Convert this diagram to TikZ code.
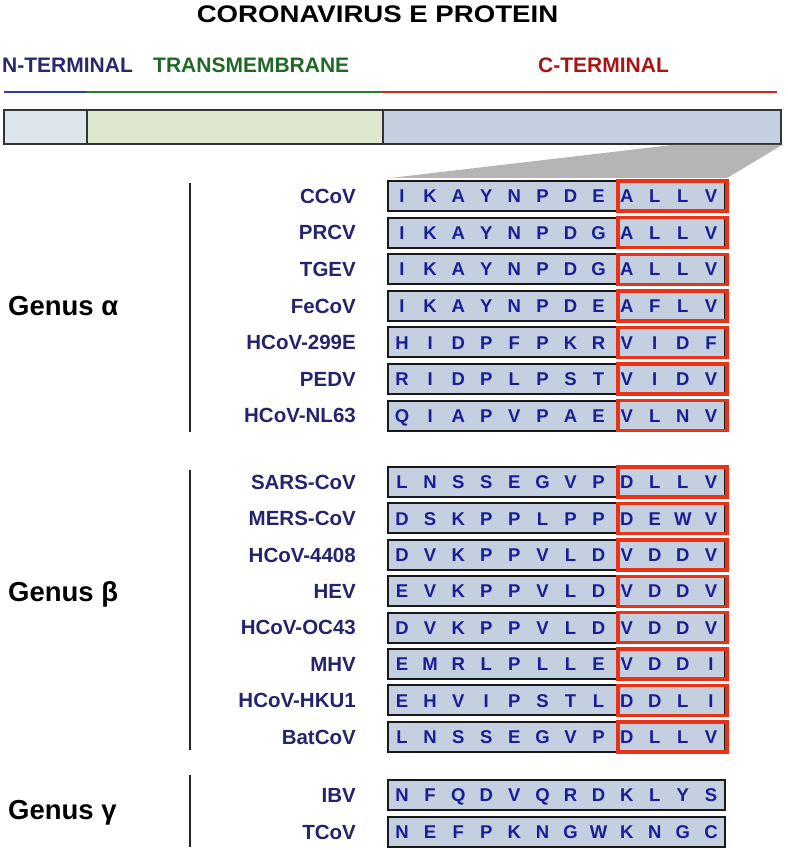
\documentclass[tikz,border=0pt]{standalone}
\usepackage{graphicx}
\usepackage{fontspec}
\setmainfont{Liberation Sans}
\usetikzlibrary{calc}
\definecolor{labnavy}{RGB}{36,36,110}
\definecolor{resblue}{RGB}{24,30,150}
\definecolor{boxfill}{RGB}{196,207,223}
\definecolor{nfill}{RGB}{220,230,236}
\definecolor{tmfill}{RGB}{221,232,206}
\definecolor{motifred}{RGB}{236,50,22}
\definecolor{ncol}{RGB}{40,40,110}
\definecolor{nline}{RGB}{40,60,180}
\definecolor{tmcol}{RGB}{30,105,40}
\definecolor{tmline}{RGB}{40,125,50}
\definecolor{ccol}{RGB}{170,20,20}
\definecolor{cline}{RGB}{210,40,30}
\definecolor{wedge}{RGB}{181,181,181}
\tikzset{
  seqbox/.style={draw=black!90, line width=2pt, fill=boxfill, minimum width=337pt,
                 minimum height=30pt, inner sep=0pt, outer sep=0pt, anchor=west},
  res/.style={text=resblue, font=\fontsize{18.5}{18.5}\selectfont\bfseries, inner sep=0pt,
              text height=13.3pt, text depth=0pt},
  lbl/.style={text=labnavy, font=\fontsize{20.5}{20.5}\selectfont\bfseries, anchor=east,
              inner sep=0pt, text height=14.7pt, text depth=0pt},
  genus/.style={font=\fontsize{27.5}{28}\selectfont\bfseries, anchor=west, inner sep=0pt,
                text height=19.7pt, text depth=0pt},
  regionlab/.style={font=\fontsize{21}{21}\selectfont\bfseries, anchor=west, inner sep=0pt,
                 text height=15pt, text depth=0pt},
  domainbar/.style={draw=black!80, line width=1.6pt, minimum height=34pt, inner sep=0pt,
                 outer sep=0pt, anchor=north west},
  motif/.style={draw=motifred, line width=3.4pt},
  bracket/.style={line width=2.2pt, draw=black!85},
}
\begin{document}
\begin{tikzpicture}[x=1pt, y=-1pt]
\useasboundingbox (0,0) rectangle (787,850);

\node[font=\fontsize{24}{24}\selectfont\bfseries, inner sep=0pt] (title) at (377.5,14)
  {\scalebox{1.15}[1]{CORONAVIRUS E PROTEIN}};

% protein domains
\node[regionlab, text=ncol] (nlab) at (2,65) {N-TERMINAL};
\node[regionlab, text=tmcol] (tmlab) at (153,65) {TRANSMEMBRANE};
\node[regionlab, text=ccol] (clab) at (538,65) {C-TERMINAL};
\draw[nline, line width=2pt] (4,92) -- (86,92);
\draw[tmline, line width=2pt] (86,92) -- (381,92);
\draw[cline, line width=2pt] (381,92) -- (777,92);

\node[domainbar, fill=nfill, minimum width=83pt] (nbar) at (4,110) {};
\node[domainbar, fill=tmfill, minimum width=296pt] (tmbar) at (nbar.north east) {};
\node[domainbar, fill=boxfill, minimum width=398pt] (cbar) at (tmbar.north east) {};

% aligned C-terminal tails, last four residues boxed
\foreach \n/\y/\lab/\seq in {
    1/196/CCoV/{I,K,A,Y,N,P,D,E,A,L,L,V},
    2/232.6/PRCV/{I,K,A,Y,N,P,D,G,A,L,L,V},
    3/269.2/TGEV/{I,K,A,Y,N,P,D,G,A,L,L,V},
    4/305.8/FeCoV/{I,K,A,Y,N,P,D,E,A,F,L,V},
    5/342.4/HCoV-299E/{H,I,D,P,F,P,K,R,V,I,D,F},
    6/379/PEDV/{R,I,D,P,L,P,S,T,V,I,D,V},
    7/415.6/HCoV-NL63/{Q,I,A,P,V,P,A,E,V,L,N,V},
    8/482/SARS-CoV/{L,N,S,S,E,G,V,P,D,L,L,V},
    9/518.4/MERS-CoV/{D,S,K,P,P,L,P,P,D,E,W,V},
    10/554.8/HCoV-4408/{D,V,K,P,P,V,L,D,V,D,D,V},
    11/591.2/HEV/{E,V,K,P,P,V,L,D,V,D,D,V},
    12/627.6/HCoV-OC43/{D,V,K,P,P,V,L,D,V,D,D,V},
    13/664/MHV/{E,M,R,L,P,L,L,E,V,D,D,I},
    14/700.4/HCoV-HKU1/{E,H,V,I,P,S,T,L,D,D,L,I},
    15/736.8/BatCoV/{L,N,S,S,E,G,V,P,D,L,L,V}}{
  \node[lbl] (lab\n) at (356,\y) {\lab};
  \node[seqbox] (seq\n) at (388,\y) {};
  \foreach \c [count=\i] in \seq
    \node[res] (r\n-\i) at (388+28.08*\i-14.04,\y) {\c};
  \draw[motif] ($(seq\n.north west)+(230,0)$) rectangle ($(seq\n.south east)+(2,0)$);
}

% gamma: no boxed motif
\foreach \n/\y/\lab/\seq in {
    16/795/IBV/{N,F,Q,D,V,Q,R,D,K,L,Y,S},
    17/832/TCoV/{N,E,F,P,K,N,G,W,K,N,G,C}}{
  \node[lbl] (lab\n) at (356,\y) {\lab};
  \node[seqbox] (seq\n) at (388,\y) {};
  \foreach \c [count=\i] in \seq
    \node[res] (r\n-\i) at (388+28.08*\i-14.04,\y) {\c};
}

% zoom wedge from the C-terminal bar to the first tail
\fill[wedge] ($(cbar.south east)+(-109,1)$) -- ($(cbar.south east)+(1,1)$)
  -- ($(seq1.north east)+(2,-3)$) -- ($(seq1.north west)+(2,-3)$) -- cycle;

% genus brackets
\node[genus] (galpha) at (8,305.8) {Genus α};
\node[genus] (gbeta) at (8,591.2) {Genus β};
\node[genus] (ggamma) at (8,810) {Genus γ};
\draw[bracket] (190,183) -- (190,432);
\draw[bracket] (190,470) -- (190,750);
\draw[bracket] (190,775) -- (190,847);

\end{tikzpicture}
\end{document}
